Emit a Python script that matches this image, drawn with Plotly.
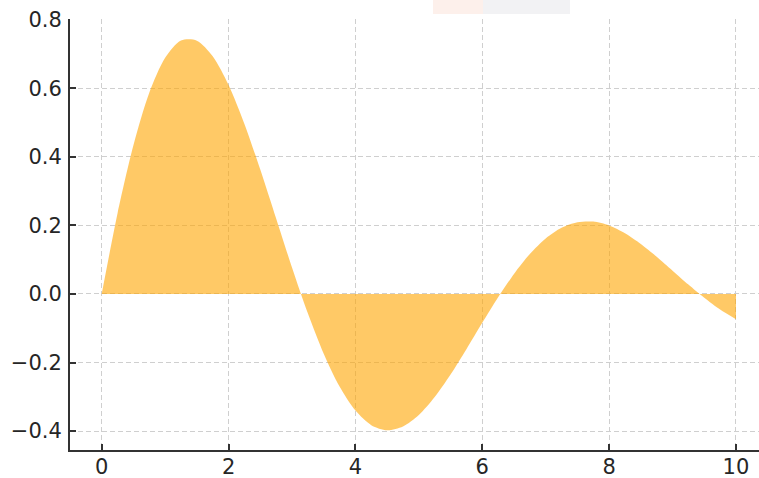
import plotly.graph_objects as go

x_vals = [0.0, 0.25, 0.5, 0.75, 1.0, 1.25, 1.5, 1.75, 2.0, 2.25, 2.5, 2.75,
          3.0, 3.25, 3.5, 3.75, 4.0, 4.25, 4.5, 4.75, 5.0, 5.25, 5.5, 5.75,
          6.0, 6.25, 6.5, 6.75, 7.0, 7.25, 7.5, 7.75, 8.0, 8.25, 8.5, 8.75,
          9.0, 9.25, 9.5, 9.75, 10.0]
y_vals = [0.0, 0.2353, 0.4338, 0.5867, 0.6889, 0.7391, 0.7389, 0.6934, 0.6095,
          0.4961, 0.3630, 0.2202, 0.0774, -0.0565, -0.1742, -0.2700, -0.3400,
          -0.3825, -0.3975, -0.3864, -0.3528, -0.3005, -0.2349, -0.1609,
          -0.0842, -0.0095, 0.0586, 0.1166, 0.1620, 0.1931, 0.2093, 0.2111,
          0.1998, 0.1772, 0.1459, 0.1086, 0.0681, 0.0274, -0.0112, -0.0455,
          -0.0736]

x_ticks = [0, 2, 4, 6, 8, 10]
x_tick_labels = ["0", "2", "4", "6", "8", "10"]
y_ticks = [-0.4, -0.2, 0.0, 0.2, 0.4, 0.6, 0.8]
y_tick_labels = ["\u22120.4", "\u22120.2", "0.0", "0.2", "0.4", "0.6", "0.8"]

fig = go.Figure()
fig.add_trace(go.Scatter(
    x=x_vals, y=y_vals, mode="lines", line=dict(width=0, shape="spline", smoothing=0.8),
    fill="tozeroy", fillcolor="rgba(255,165,0,0.6)", hoverinfo="skip", showlegend=False,
))

axis_common = dict(
    showline=True, linecolor="#333333", linewidth=2,
    ticks="inside", ticklen=6, tickwidth=1.5, tickcolor="#333333",
    showgrid=True, gridcolor="#cfcfcf", gridwidth=1, griddash="5px,3px",
    zeroline=False, automargin=False,
    tickfont=dict(family="DejaVu Sans", size=21, color="#262626"),
)

fig.update_layout(
    width=759, height=478,
    margin=dict(l=70, r=0, t=19, b=28),
    paper_bgcolor="white", plot_bgcolor="white",
    xaxis=dict(range=[-0.5, 10.363], tickvals=x_ticks, ticktext=x_tick_labels,
               ticklabelstandoff=-3, **axis_common),
    yaxis=dict(range=[-0.455, 0.802], tickvals=y_ticks, ticktext=y_tick_labels,
               ticklabelstandoff=2, **axis_common),
    shapes=[
        dict(type="rect", xref="paper", yref="paper", x0=(433 - 70) / 689, x1=(483 - 70) / 689,
             y0=1 + 5 / 431, y1=1 + 19 / 431, fillcolor="#fdf0eb", line=dict(width=0), layer="below"),
        dict(type="rect", xref="paper", yref="paper", x0=(483 - 70) / 689, x1=(570 - 70) / 689,
             y0=1 + 5 / 431, y1=1 + 19 / 431, fillcolor="#f2f2f4", line=dict(width=0), layer="below"),
    ],
)

fig.write_html("out.html", config={"displayModeBar": False},
               post_script="document.body.style.margin='0';")
